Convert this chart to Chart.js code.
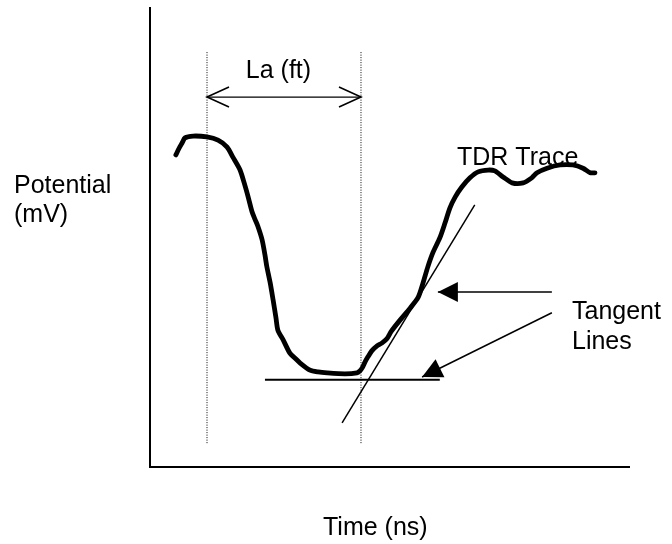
<!DOCTYPE html>
<html lang="en">
<head>
  <meta charset="UTF-8" />
  <title>TDR Trace</title>
  <script src="https://cdn.jsdelivr.net/npm/chart.js"></script>
  <style>
    body { margin: 0; background: #fff; }
    canvas { display: block; }
  </style>
</head>
<body>
  <canvas id="chart" width="672" height="544"></canvas>

  <script>
    // TDR trace (time and potential in arbitrary 0-100 units)
    const traceTime = [5.4, 6.1, 6.7, 7.3, 9.0, 11.9, 14.2, 16.1, 17.3, 18.8, 19.8, 20.5, 21.3, 21.9, 22.5, 23.4,
      24.0, 24.4, 25.1, 25.7, 26.3, 26.7, 27.8, 29.2, 30.3, 31.3, 33.4, 35.1, 37.0, 40.7, 43.2, 43.8, 44.3,
      44.9, 45.5, 46.3, 47.4, 48.4, 49.5, 50.4, 52.2, 54.3, 56.0, 57.0, 58.0, 59.1, 60.5, 61.6,
      62.6, 63.7, 65.1, 66.8, 68.5, 70.6, 72.0, 73.7, 75.6, 77.9, 79.7, 80.8, 82.9, 85.6, 88.3, 90.4, 91.9, 92.9];
    const tracePotential = [68.0, 69.5, 70.6, 71.7, 72.1, 71.9, 71.2, 69.7, 67.5, 64.7, 61.4, 58.8, 55.6, 54.0, 52.5, 49.5,
      46.2, 43.6, 40.1, 36.4, 32.5, 29.8, 27.7, 24.8, 23.7, 22.7, 21.1, 20.7, 20.5, 20.3, 20.5, 20.9, 21.6,
      22.9, 24.0, 25.3, 26.4, 27.0, 28.0, 29.6, 32.0, 34.6, 37.0, 40.1, 43.6, 46.8, 49.9, 53.2,
      56.4, 58.8, 61.0, 63.0, 64.3, 64.7, 64.5, 63.2, 61.9, 61.9, 63.0, 64.1, 65.1, 65.8, 65.8, 65.1, 64.1, 64.1];

    // tangent lines (end points)
    const baseTangentTime = [24.0, 60.5];
    const baseTangentPotential = [19.0, 19.0];
    const riseTangentTime = [40.1, 67.8];
    const riseTangentPotential = [9.6, 57.1];

    // La markers (dotted verticals)
    const markerTimes = [11.9, 44.05];
    const markerSpan = [5.2, 90.4];
    const laArrowLevel = 80.6;

    // callout arrows: [fromTime, fromPotential, toTime, toPotential]
    const callouts = [
      [83.9, 38.1, 60.1, 38.1],
      [83.9, 33.6, 56.8, 19.6]
    ];

    const FONT = '25px "Liberation Sans", Arial, sans-serif';

    const pts = (xs, ys) => xs.map((v, i) => ({ x: v, y: ys[i] }));

    const datasets = [
      { data: pts(traceTime, tracePotential), borderColor: '#000', borderWidth: 4.8, tension: 0.25,
        borderCapStyle: 'round', borderJoinStyle: 'round' },
      { data: pts(baseTangentTime, baseTangentPotential), borderColor: '#000', borderWidth: 2 },
      { data: pts(riseTangentTime, riseTangentPotential), borderColor: '#000', borderWidth: 1.5 }
    ];
    markerTimes.forEach(t => {
      datasets.push({ data: pts([t, t], markerSpan), borderColor: '#000', borderWidth: 1, borderDash: [1, 1.5] });
    });

    function arrowHead(ctx, x1, y1, x2, y2, len, half) {
      const a = Math.atan2(y2 - y1, x2 - x1);
      ctx.beginPath();
      ctx.moveTo(x2, y2);
      ctx.lineTo(x2 - len * Math.cos(a) + half * Math.sin(a), y2 - len * Math.sin(a) - half * Math.cos(a));
      ctx.lineTo(x2 - len * Math.cos(a) - half * Math.sin(a), y2 - len * Math.sin(a) + half * Math.cos(a));
      ctx.closePath();
      ctx.fill();
    }

    const notes = {
      id: 'notes',
      afterDatasetsDraw(chart) {
        const { ctx, scales: { x, y } } = chart;
        const X = v => x.getPixelForValue(v), Y = v => y.getPixelForValue(v);
        ctx.save();
        ctx.strokeStyle = '#000';
        ctx.fillStyle = '#000';

        // double arrow for La
        const xa = X(markerTimes[0]), xb = X(markerTimes[1]), ya = Y(laArrowLevel);
        ctx.lineWidth = 1.3;
        ctx.beginPath(); ctx.moveTo(xa, ya); ctx.lineTo(xb, ya); ctx.stroke();
        ctx.lineWidth = 1.6;
        ctx.beginPath();
        ctx.moveTo(xa + 22, ya - 10); ctx.lineTo(xa, ya); ctx.lineTo(xa + 22, ya + 10);
        ctx.moveTo(xb - 22, ya - 10); ctx.lineTo(xb, ya); ctx.lineTo(xb - 22, ya + 10);
        ctx.stroke();

        // callout arrows
        ctx.lineWidth = 1.5;
        callouts.forEach(c => {
          const x1 = X(c[0]), y1 = Y(c[1]), x2 = X(c[2]), y2 = Y(c[3]);
          ctx.beginPath(); ctx.moveTo(x1, y1); ctx.lineTo(x2, y2); ctx.stroke();
          arrowHead(ctx, x1, y1, x2, y2, 20, 10);
        });

        // labels
        ctx.font = FONT;
        ctx.textAlign = 'left';
        ctx.textBaseline = 'alphabetic';
        ctx.fillText('La (ft)', X(20.0), Y(84.7));
        ctx.fillText('TDR Trace', X(64.1), Y(65.8));
        ctx.fillText('Tangent', X(88.1), Y(32.2));
        ctx.fillText('Lines', X(88.1), Y(25.7));

        const area = chart.chartArea;
        ctx.fillText('Potential', 14, 193);
        ctx.fillText('(mV)', 14, 222);
        ctx.fillText('Time (ns)', area.left + 173, area.bottom + 68);
        ctx.restore();
      }
    };

    const axis = (extra) => Object.assign({
      type: 'linear', min: 0, max: 100,
      ticks: { display: false },
      grid: { display: false, drawTicks: false },
      border: { display: true, color: '#000', width: 2 }
    }, extra);

    new Chart(document.getElementById('chart'), {
      type: 'line',
      data: { datasets },
      options: {
        responsive: false,
        animation: false,
        parsing: false,
        elements: { point: { radius: 0 } },
        layout: { padding: { left: 150, top: 8, right: 43, bottom: 77 } },
        plugins: { legend: { display: false }, tooltip: { enabled: false } },
        scales: {
          x: axis({ afterFit: s => { s.height = 0; } }),
          y: axis({ afterFit: s => { s.width = 0; } })
        }
      },
      plugins: [notes]
    });
  </script>
</body>
</html>
